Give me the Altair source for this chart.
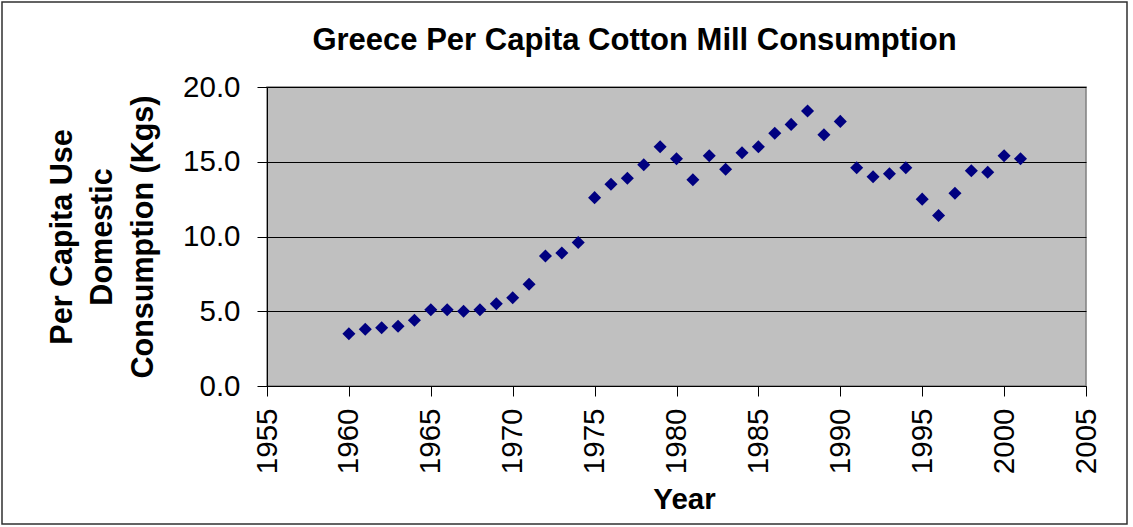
import altair as alt
import pandas as pd

# Greece per capita cotton mill consumption, kilograms per person
years = list(range(1960, 2002))
per_capita_kg = [
    3.5, 3.8, 3.9, 4.0, 4.4, 5.1, 5.1, 5.0, 5.1, 5.5,
    5.9, 6.8, 8.7, 8.9, 9.6, 12.6, 13.5, 13.9, 14.8, 16.0,
    15.2, 13.8, 15.4, 14.5, 15.6, 16.0, 16.9, 17.5, 18.4, 16.8,
    17.7, 14.6, 14.0, 14.2, 14.6, 12.5, 11.4, 12.9, 14.4, 14.3,
    15.4, 15.2,
]

df = pd.DataFrame({"Year": years, "Kgs": per_capita_kg})

FONT = "Liberation Sans"
PLOT_W, PLOT_H = 819, 299
PAD = {"left": 267, "top": 87, "right": 47, "bottom": 141}

points = alt.Chart(df).mark_point(
    shape="diamond", filled=True, color="#000080", size=170, opacity=1
).encode(
    x=alt.X(
        "Year:Q",
        scale=alt.Scale(domain=[1955, 2005], nice=False, zero=False),
        axis=alt.Axis(
            values=list(range(1955, 2010, 5)),
            format="d",
            labelAngle=-90,
            labelPadding=12,
            grid=False,
            title="Year",
            titleFontSize=29.5,
            titleX=417,
            titleY=122,
            titleBaseline="alphabetic",
        ),
    ),
    y=alt.Y(
        "Kgs:Q",
        scale=alt.Scale(domain=[0, 20], nice=False),
        axis=alt.Axis(
            values=[0, 5, 10, 15, 20],
            format=".1f",
            labelPadding=17,
            grid=True,
            title=["Per Capita Use", "Domestic", "Consumption (Kgs)"],
            titleFontSize=30.5,
            titleAngle=270,
            titleBaseline="middle",
            titleAlign="center",
            titleX=-205,
            titleY=PLOT_H / 2,
            titleLineHeight=40.5,
        ),
    ),
)

# thin frame around the whole chart
frame = alt.Chart(pd.DataFrame({"k": [0]})).mark_rect(
    fill=None, stroke="#303030", strokeWidth=1.5, clip=False
).encode(
    x=alt.value(-265),
    x2=alt.value(860),
    y=alt.value(-85),
    y2=alt.value(138 + PLOT_H),
)

chart = alt.layer(frame, points).properties(
    width=PLOT_W,
    height=PLOT_H,
    padding=PAD,
    autosize=alt.AutoSizeParams(type="none"),
    background="white",
    title=alt.TitleParams(
        "Greece Per Capita Cotton Mill Consumption",
        font=FONT,
        fontSize=31,
        fontWeight="bold",
        color="black",
        anchor="middle",
        dx=-42,
        dy=60,
    ),
).configure_view(
    fill="#C0C0C0", stroke="#808080", strokeWidth=1.5
).configure_axis(
    labelFont=FONT,
    labelFontSize=29.5,
    labelColor="black",
    titleFont=FONT,
    titleFontWeight="bold",
    titleColor="black",
    domainColor="black",
    domainWidth=1,
    tickColor="black",
    tickSize=10,
    tickWidth=1,
    gridColor="black",
    gridWidth=1,
    labelFlush=False,
    labelOverlap=False,
)

chart.save("out.html", embed_options={"renderer": "svg", "actions": False})
